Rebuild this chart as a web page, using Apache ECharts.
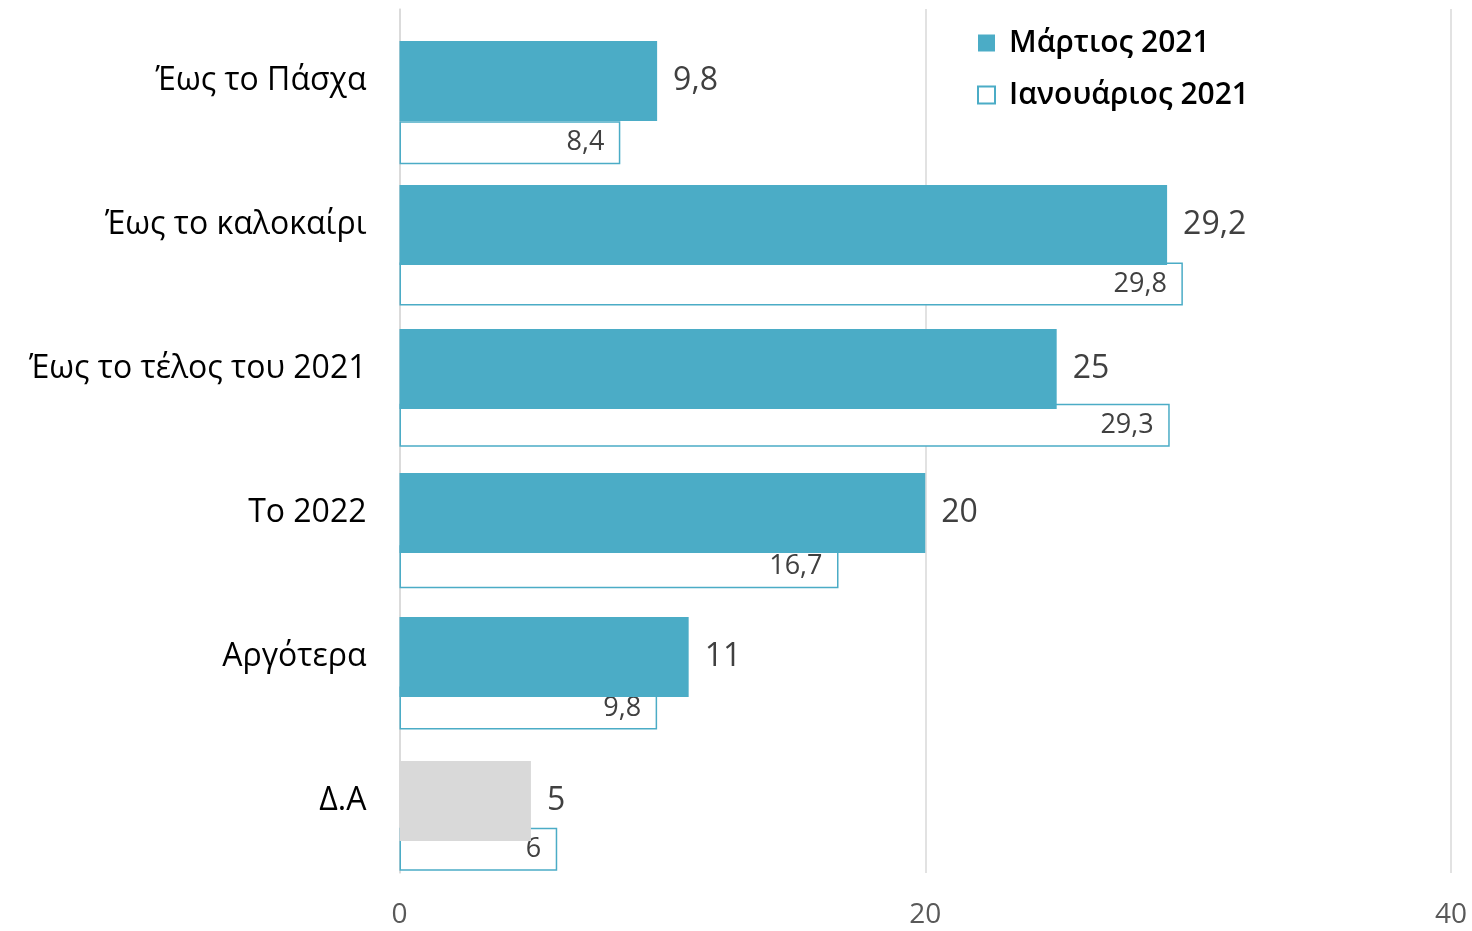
<!DOCTYPE html>
<html>
<head>
<meta charset="utf-8">
<script src="https://cdn.jsdelivr.net/npm/echarts@6/dist/echarts.min.js"></script>
<style>
  html, body { margin: 0; padding: 0; background: #fff; }
  #chart { width: 1472px; height: 931px; }
</style>
</head>
<body>
<div id="chart"></div>
<script>
// Δεδομένα
var categories = ['Έως το Πάσχα', 'Έως το καλοκαίρι', 'Έως το τέλος του 2021', 'Το 2022', 'Αργότερα', 'Δ.Α'];
var march2021 = [9.8, 29.2, 25, 20, 11, 5];
var january2021 = [8.4, 29.8, 29.3, 16.7, 9.8, 6];
var seriesNames = ['Μάρτιος 2021', 'Ιανουάριος 2021'];

var teal = '#4BACC6';
var fontFam = '"Open Sans", "Noto Sans", sans-serif';

function fmt(v) {
  return String(v).replace('.', ',');
}

var myChart = echarts.init(document.getElementById('chart'));

var option = {
  animation: false,
  textStyle: { fontFamily: fontFam },
  legend: {
    orient: 'vertical',
    left: 972,
    top: 23,
    icon: 'rect',
    itemWidth: 17,
    itemHeight: 17,
    itemGap: 22,
    textStyle: { fontSize: 30, fontWeight: 600, color: '#000', fontFamily: fontFam, padding: [0, 0, 0, 9] },
    data: seriesNames
  },
  grid: [
    { left: 399.5, right: 21, top: 9, height: 864 },
    { left: 399.5, right: 21, top: 72, height: 848 }
  ],
  xAxis: [
    {
      gridIndex: 0,
      type: 'value',
      min: 0,
      max: 40,
      interval: 20,
      axisLine: { show: false },
      axisTick: { show: false },
      splitLine: { lineStyle: { color: '#D9D9D9', width: 1.5 } },
      axisLabel: { fontSize: 28, color: '#595959', margin: 28 }
    },
    {
      gridIndex: 1,
      type: 'value',
      min: 0,
      max: 40,
      show: false,
      splitLine: { show: false }
    }
  ],
  yAxis: [
    {
      gridIndex: 0,
      type: 'category',
      inverse: true,
      data: categories,
      axisLine: { show: true, lineStyle: { color: '#D9D9D9', width: 1.5 } },
      axisTick: { show: false },
      axisLabel: { fontSize: 32, color: '#000', margin: 33 }
    },
    {
      gridIndex: 1,
      type: 'category',
      inverse: true,
      data: categories,
      show: false
    }
  ],
  series: [
    {
      name: seriesNames[1],
      type: 'bar',
      xAxisIndex: 1,
      yAxisIndex: 1,
      barWidth: 43,
      z: 1,
      itemStyle: { color: '#fff', borderColor: teal, borderWidth: 1.5 },
      label: {
        show: true,
        position: 'insideRight',
        distance: 16,
        fontSize: 27,
        color: '#404040',
        padding: [4, 0, 0, 0],
        formatter: function (p) { return fmt(p.value); }
      },
      data: january2021
    },
    {
      name: seriesNames[0],
      type: 'bar',
      xAxisIndex: 0,
      yAxisIndex: 0,
      barWidth: 80,
      z: 3,
      itemStyle: { color: teal },
      label: {
        show: true,
        position: 'right',
        distance: 16,
        fontSize: 32,
        color: '#404040',
        padding: [3, 0, 0, 0],
        formatter: function (p) { return fmt(p.value); }
      },
      data: march2021.map(function (v, i) {
        if (categories[i] === 'Δ.Α') {
          return { value: v, itemStyle: { color: '#D9D9D9' } };
        }
        return v;
      })
    }
  ]
};

myChart.setOption(option);
</script>
</body>
</html>
